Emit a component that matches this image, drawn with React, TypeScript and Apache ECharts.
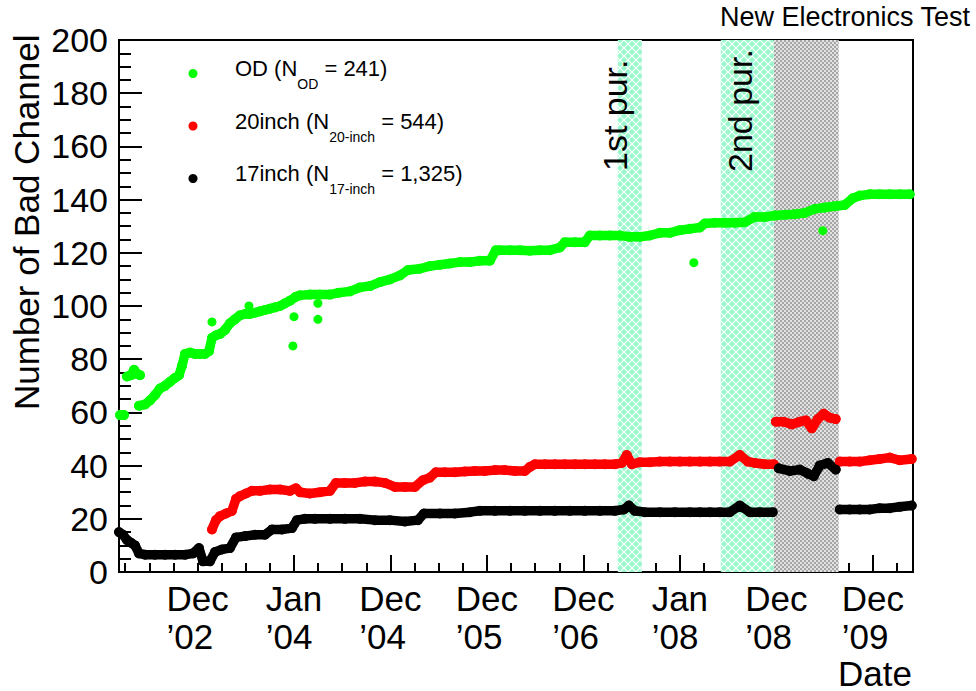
import React, { useEffect, useRef } from "react";
import * as echarts from "echarts";

// ---------- axis ranges (fractional years) ----------
const X_MIN = 2002.103;
const X_MAX = 2010.334;
const Y_MIN = 0;
const Y_MAX = 200;

// tick positions / labels
const majorTickYears = [2003.917, 2004.917, 2005.917, 2006.917, 2007.917, 2008.917, 2009.917];
const minorTickYears = [
  2002.167, 2002.417, 2002.667, 2002.917, 2003.167, 2003.417, 2003.667, 2003.917,
  2004.167, 2004.417, 2004.667, 2004.917, 2005.167, 2005.417, 2005.667, 2005.917,
  2006.167, 2006.417, 2006.667, 2006.917, 2007.167, 2007.417, 2007.667, 2007.917,
  2008.167, 2008.417, 2008.667, 2008.917, 2009.167, 2009.417, 2009.667, 2009.917,
  2010.167,
];
const labelYears = [2002.917, 2003.917, 2004.917, 2005.917, 2006.917, 2007.917, 2008.917, 2009.917];
const labelMonths = ["Dec", "Jan", "Dec", "Dec", "Dec", "Jan", "Dec", "Dec"];
const labelShortYears = ["’02", "’04", "’04", "’05", "’06", "’08", "’08", "’09"];

// ---------- shaded periods ----------
const purificationBands = [
  [2007.274, 2007.523],
  [2008.342, 2008.891],
];
const electronicsTestBand = [2008.891, 2009.564];

// ---------- legend ----------
const seriesNames = ["OD", "20inch", "17inch"];
const seriesSubs = ["OD", "20-inch", "17-inch"];
const seriesCounts = ["241", "544", "1,325"];
const seriesColors = ["#00ff00", "#ff0000", "#000000"];

// ---------- OD (green) ----------
const odSeg1 = [[2002.114, 59], [2002.155, 59]];
const odSeg2 = [[2002.186, 73.5], [2002.228, 74], [2002.259, 76], [2002.290, 74.5], [2002.321, 74]];
const odSeg3 = [
  [2002.310, 62.5], [2002.373, 63], [2002.424, 64.5], [2002.476, 66.5], [2002.528, 69],
  [2002.580, 70], [2002.632, 71.5], [2002.684, 73], [2002.725, 74], [2002.756, 77.5],
  [2002.787, 82], [2002.839, 82.5], [2002.891, 82], [2002.943, 82], [2002.994, 82],
  [2003.036, 83], [2003.067, 88], [2003.108, 89], [2003.150, 89.5], [2003.202, 91],
  [2003.253, 93.5], [2003.305, 95], [2003.357, 96.5], [2003.409, 97], [2003.461, 97],
  [2003.513, 97.5], [2003.564, 98], [2003.616, 98.5], [2003.668, 99], [2003.720, 99.5],
  [2003.772, 100], [2003.823, 101], [2003.875, 102], [2003.937, 103.5], [2003.979, 104],
  [2004.082, 104.3], [2004.186, 104.3], [2004.290, 104.3], [2004.383, 105], [2004.497, 105.5],
  [2004.601, 107], [2004.704, 107.5], [2004.808, 109], [2004.911, 110], [2005.015, 111.5],
  [2005.098, 113.5], [2005.222, 114], [2005.326, 115], [2005.430, 115.5], [2005.533, 116],
  [2005.637, 116.5], [2005.741, 116.5], [2005.844, 117], [2005.948, 117], [2006.010, 121],
  [2006.051, 121], [2006.155, 121], [2006.259, 121], [2006.362, 120.8], [2006.466, 121],
  [2006.570, 121], [2006.673, 122], [2006.725, 124], [2006.829, 124], [2006.932, 124],
  [2006.984, 126.5], [2007.088, 126.5], [2007.191, 126.5], [2007.295, 126.5], [2007.399, 126],
  [2007.502, 126], [2007.606, 126.5], [2007.709, 127.5], [2007.813, 127.5], [2007.917, 128.5],
  [2008.020, 129], [2008.124, 129.5], [2008.176, 131], [2008.279, 131.3], [2008.383, 131.3],
  [2008.487, 131.3], [2008.590, 131.5], [2008.694, 133.5], [2008.798, 133.5], [2008.901, 134],
  [2009.005, 134.3], [2009.108, 134.5], [2009.212, 135], [2009.316, 136.5], [2009.419, 137],
  [2009.523, 137.5], [2009.627, 138], [2009.709, 140.5], [2009.782, 141.5], [2009.886, 142],
  [2009.989, 142], [2010.093, 142], [2010.196, 142], [2010.300, 142],
];
const odOutliers = [
  [2003.067, 94], [2003.450, 100], [2003.906, 85], [2003.917, 96],
  [2004.165, 95], [2004.165, 101], [2008.062, 116.3], [2009.399, 128.3],
];

// ---------- 20inch (red) ----------
const red20Seg1 = [
  [2003.067, 16], [2003.108, 19.5], [2003.150, 21], [2003.212, 22], [2003.274, 23],
  [2003.316, 27.5], [2003.357, 28.5], [2003.419, 29.5], [2003.481, 30.5], [2003.564, 30.5],
  [2003.668, 31], [2003.772, 31], [2003.875, 30.5], [2003.937, 31.5], [2003.979, 30],
  [2004.082, 29.5], [2004.186, 30], [2004.290, 30.5], [2004.352, 33.5], [2004.445, 33.5],
  [2004.549, 33.5], [2004.652, 34], [2004.756, 34], [2004.860, 33.5], [2004.963, 32],
  [2005.067, 32], [2005.171, 32], [2005.253, 34.5], [2005.326, 35.5], [2005.388, 37.5],
  [2005.481, 37.5], [2005.585, 37.5], [2005.689, 37.8], [2005.792, 38], [2005.896, 38],
  [2006.000, 38.3], [2006.103, 38.3], [2006.207, 38], [2006.310, 38], [2006.362, 39.5],
  [2006.414, 40.5], [2006.518, 40.5], [2006.621, 40.5], [2006.725, 40.5], [2006.829, 40.5],
  [2006.932, 40.5], [2007.036, 40.5], [2007.139, 40.5], [2007.243, 40.5], [2007.316, 41],
  [2007.367, 44], [2007.419, 40.5], [2007.502, 41.3], [2007.606, 41.3], [2007.709, 41.5],
  [2007.813, 41.5], [2007.917, 41.5], [2008.020, 41.5], [2008.124, 41.5], [2008.228, 41.5],
  [2008.331, 41.5], [2008.435, 41.5], [2008.538, 44], [2008.621, 41.5], [2008.694, 41],
  [2008.798, 40.5], [2008.891, 40.5],
];
const red20Seg2 = [
  [2008.912, 56.5], [2008.994, 56.5], [2009.077, 55.5], [2009.160, 56.5], [2009.222, 57],
  [2009.285, 54], [2009.347, 57.5], [2009.409, 59.5], [2009.471, 58], [2009.533, 57.5],
];
const red20Seg3 = [
  [2009.575, 41.5], [2009.678, 41.5], [2009.782, 41.5], [2009.886, 42], [2009.989, 42.5],
  [2010.093, 43], [2010.196, 42], [2010.321, 42.5],
];

// ---------- 17inch (black) ----------
const blk17Seg1 = [
  [2002.103, 15], [2002.145, 14], [2002.186, 12], [2002.228, 11], [2002.269, 10],
  [2002.310, 7], [2002.373, 6.5], [2002.476, 6.5], [2002.580, 6.5], [2002.684, 6.5],
  [2002.787, 6.5], [2002.870, 7], [2002.932, 9], [2002.974, 4], [2003.046, 4],
  [2003.098, 7.5], [2003.171, 8.5], [2003.253, 9], [2003.316, 13], [2003.409, 13.5],
  [2003.513, 14], [2003.616, 14], [2003.689, 16], [2003.792, 16], [2003.896, 16.5],
  [2003.948, 19.5], [2004.031, 20], [2004.134, 20], [2004.290, 20], [2004.445, 20],
  [2004.601, 20], [2004.756, 19.5], [2004.911, 19.5], [2005.067, 19], [2005.202, 19.5],
  [2005.264, 22], [2005.430, 22], [2005.585, 22], [2005.741, 22.5], [2005.844, 23],
  [2006.000, 23], [2006.155, 23], [2006.310, 23], [2006.466, 23], [2006.621, 23],
  [2006.777, 23], [2006.932, 23], [2007.088, 23], [2007.243, 23], [2007.336, 23.5],
  [2007.388, 25], [2007.450, 23], [2007.554, 22.5], [2007.709, 22.5], [2007.865, 22.5],
  [2008.020, 22.5], [2008.124, 22.5], [2008.228, 22.5], [2008.331, 22.5], [2008.435, 22.5],
  [2008.538, 25], [2008.642, 22.5], [2008.746, 22.5], [2008.880, 22.5],
];
const blk17Seg2 = [
  [2008.943, 39], [2009.057, 38], [2009.160, 38.5], [2009.243, 37], [2009.305, 36],
  [2009.367, 40], [2009.450, 41], [2009.533, 38.5],
];
const blk17Seg3 = [
  [2009.575, 23.5], [2009.678, 23.5], [2009.782, 23.5], [2009.886, 23.5], [2009.989, 24],
  [2010.093, 24], [2010.196, 24.5], [2010.321, 25],
];

const FONT = '"Liberation Sans", Arial, Helvetica, sans-serif';

function makeCrossHatch() {
  const c = document.createElement("canvas");
  c.width = 8;
  c.height = 8;
  const ctx = c.getContext("2d")!;
  ctx.fillStyle = "#99f7cc";
  ctx.fillRect(0, 0, 8, 8);
  ctx.strokeStyle = "#ffffff";
  ctx.lineWidth = 1.2;
  ctx.beginPath();
  ctx.moveTo(-1, -1);
  ctx.lineTo(9, 9);
  ctx.moveTo(9, -1);
  ctx.lineTo(-1, 9);
  ctx.stroke();
  return { image: c, repeat: "repeat", imageWidth: 8, imageHeight: 8 };
}

function makeChecker() {
  const c = document.createElement("canvas");
  c.width = 4;
  c.height = 4;
  const ctx = c.getContext("2d")!;
  ctx.fillStyle = "#e2e2e2";
  ctx.fillRect(0, 0, 4, 4);
  ctx.fillStyle = "#a6a6a6";
  ctx.fillRect(0, 0, 2, 2);
  ctx.fillRect(2, 2, 2, 2);
  return { image: c, repeat: "repeat", imageWidth: 4, imageHeight: 4 };
}

function lineSeg(name: string, color: string, data: number[][]) {
  return {
    type: "line",
    name,
    data,
    xAxisIndex: 0,
    yAxisIndex: 0,
    symbol: "circle",
    symbolSize: 10,
    showSymbol: true,
    showAllSymbol: true,
    itemStyle: { color },
    lineStyle: { color, width: 9.5, cap: "round", join: "round" },
    silent: true,
    z: 3,
  };
}

export default function App() {
  const ref = useRef<HTMLDivElement>(null);

  useEffect(() => {
    document.body.style.margin = "0";
    if (!ref.current) return;
    const chart = echarts.init(ref.current, null, { renderer: "svg" });
    const hatch = makeCrossHatch();
    const checker = makeChecker();

    const legendFormatter = (name: string) => {
      const i = seriesNames.indexOf(name);
      return `{sp| }{t|${name} (N}{s|${seriesSubs[i]}}{t| = ${seriesCounts[i]})}`;
    };

    const option: any = {
      animation: false,
      backgroundColor: "#ffffff",
      grid: {
        left: 119,
        top: 40,
        right: 63,
        bottom: 119,
        show: true,
        borderColor: "#000",
        borderWidth: 2,
        backgroundColor: "transparent",
      },
      legend: {
        data: seriesNames.map((n) => ({ name: n, icon: "circle" })),
        orient: "vertical",
        left: 188.5,
        top: 56,
        itemWidth: 9,
        itemHeight: 9,
        itemGap: 17.5,
        padding: 0,
        selectedMode: false,
        formatter: legendFormatter,
        textStyle: {
          fontFamily: FONT,
          color: "#000",
          rich: {
            sp: { width: 32.5, fontSize: 10, lineHeight: 10 },
            t: { fontSize: 22, lineHeight: 26, padding: [0, 0, 10, 0], fontFamily: FONT, color: "#000" },
            s: { fontSize: 14, lineHeight: 14, padding: [21, 0, 0, 0], fontFamily: FONT, color: "#000" },
          },
        },
      },
      xAxis: [
        {
          type: "value",
          min: X_MIN,
          max: X_MAX,
          position: "bottom",
          splitLine: { show: false },
          axisLine: { show: true, onZero: false, lineStyle: { color: "#000", width: 2 } },
          axisTick: {
            show: true,
            inside: true,
            length: 17,
            customValues: majorTickYears,
            lineStyle: { color: "#000", width: 2 },
          },
          axisLabel: {
            show: true,
            customValues: labelYears,
            margin: 7,
            color: "#000",
            fontFamily: FONT,
            fontSize: 35,
            lineHeight: 38,
            formatter: (v: number) => {
              let i = 0;
              let best = Infinity;
              labelYears.forEach((y, k) => {
                const d = Math.abs(y - v);
                if (d < best) {
                  best = d;
                  i = k;
                }
              });
              return `{a|${labelMonths[i]}}\n{a|${labelShortYears[i]}}`;
            },
            rich: {
              a: { align: "left", fontSize: 35, lineHeight: 38, fontFamily: FONT, color: "#000" },
            },
          },
        },
        {
          type: "value",
          min: X_MIN,
          max: X_MAX,
          position: "bottom",
          splitLine: { show: false },
          axisLine: { show: false, onZero: false },
          axisLabel: { show: false },
          axisTick: {
            show: true,
            inside: true,
            length: 9,
            customValues: minorTickYears,
            lineStyle: { color: "#000", width: 2 },
          },
        },
      ],
      yAxis: {
        type: "value",
        min: Y_MIN,
        max: Y_MAX,
        interval: 20,
        splitLine: { show: false },
        axisLine: { show: true, lineStyle: { color: "#000", width: 2 } },
        axisTick: { show: true, inside: true, length: 23, lineStyle: { color: "#000", width: 2 } },
        minorTick: { show: true, splitNumber: 4, length: 12, lineStyle: { color: "#000", width: 2 } },
        minorSplitLine: { show: false },
        axisLabel: { margin: 11, fontSize: 34, color: "#000", fontFamily: FONT },
      },
      series: [
        {
          type: "line",
          name: "bands",
          data: [],
          silent: true,
          z: 1,
          markArea: {
            silent: true,
            label: { show: false },
            data: [
              ...purificationBands.map((b) => [
                { xAxis: b[0], itemStyle: { color: hatch, opacity: 1 } },
                { xAxis: b[1] },
              ]),
              [
                { xAxis: electronicsTestBand[0], itemStyle: { color: checker, opacity: 1 } },
                { xAxis: electronicsTestBand[1] },
              ],
            ],
          },
        },
        lineSeg(seriesNames[0], seriesColors[0], odSeg1),
        lineSeg(seriesNames[0], seriesColors[0], odSeg2),
        lineSeg(seriesNames[0], seriesColors[0], odSeg3),
        {
          type: "scatter",
          name: seriesNames[0],
          data: odOutliers,
          symbolSize: 9,
          itemStyle: { color: seriesColors[0], opacity: 1 },
          silent: true,
          z: 3,
        },
        lineSeg(seriesNames[1], seriesColors[1], red20Seg1),
        lineSeg(seriesNames[1], seriesColors[1], red20Seg2),
        lineSeg(seriesNames[1], seriesColors[1], red20Seg3),
        lineSeg(seriesNames[2], seriesColors[2], blk17Seg1),
        lineSeg(seriesNames[2], seriesColors[2], blk17Seg2),
        lineSeg(seriesNames[2], seriesColors[2], blk17Seg3),
      ],
      graphic: [
        {
          type: "text",
          x: 26,
          y: 410,
          rotation: Math.PI / 2,
          z: 10,
          style: {
            text: "Number of Bad Channel",
            fontFamily: FONT,
            fontSize: 35,
            fill: "#000",
            align: "left",
            verticalAlign: "middle",
          },
        },
        {
          type: "text",
          x: 615,
          y: 171,
          rotation: Math.PI / 2,
          z: 10,
          style: {
            text: "1st pur.",
            fontFamily: FONT,
            fontSize: 34,
            fill: "#000",
            align: "left",
            verticalAlign: "middle",
          },
        },
        {
          type: "text",
          x: 740,
          y: 172,
          rotation: Math.PI / 2,
          z: 10,
          style: {
            text: "2nd pur.",
            fontFamily: FONT,
            fontSize: 34,
            fill: "#000",
            align: "left",
            verticalAlign: "middle",
          },
        },
        {
          type: "text",
          x: 970,
          y: 17,
          z: 10,
          style: {
            text: "New Electronics Test",
            fontFamily: FONT,
            fontSize: 27,
            fill: "#000",
            align: "right",
            verticalAlign: "middle",
          },
        },
        {
          type: "text",
          x: 912,
          y: 673,
          z: 10,
          style: {
            text: "Date",
            fontFamily: FONT,
            fontSize: 35,
            fill: "#000",
            align: "right",
            verticalAlign: "middle",
          },
        },
      ],
    };

    chart.setOption(option);
    return () => chart.dispose();
  }, []);

  return <div ref={ref} style={{ width: 976, height: 691 }} />;
}
